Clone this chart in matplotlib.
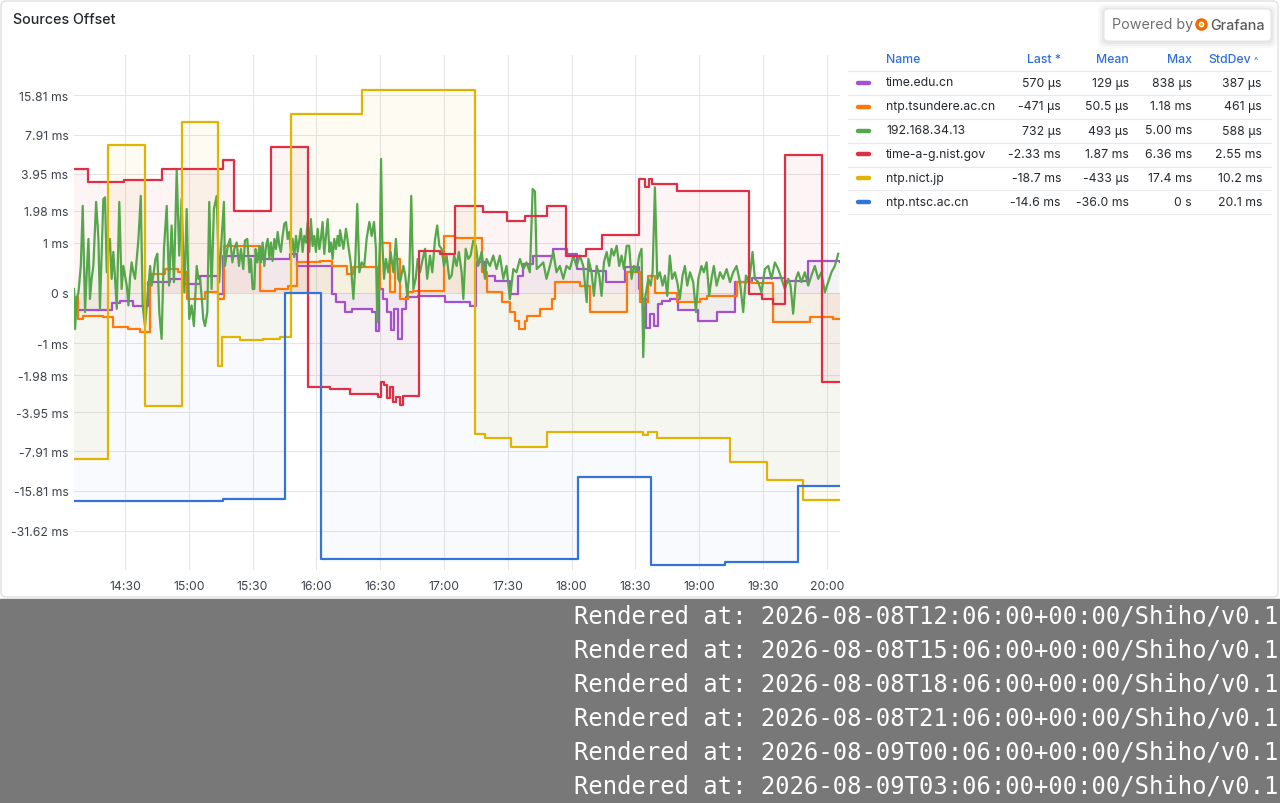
import matplotlib
matplotlib.use("Agg")
import matplotlib.pyplot as plt
from matplotlib.patches import FancyBboxPatch, Rectangle, Circle
from matplotlib.transforms import IdentityTransform
from matplotlib.ticker import NullLocator

plt.rcParams["font.family"] = ["Inter", "DejaVu Sans"]

# ---- data: time in minutes after 14:00, offsets in ms ----
names = ["time.edu.cn", "ntp.tsundere.ac.cn", "192.168.34.13",
         "time-a-g.nist.gov", "ntp.nict.jp", "ntp.ntsc.ac.cn"]
colors = ["#A352CC", "#FF780A", "#56A64B", "#E02F44", "#E0B400", "#3274D9"]
col_last = ["570 µs", "-471 µs", "732 µs", "-2.33 ms", "-18.7 ms", "-14.6 ms"]
col_mean = ["129 µs", "50.5 µs", "493 µs", "1.87 ms", "-433 µs", "-36.0 ms"]
col_max = ["838 µs", "1.18 ms", "5.00 ms", "6.36 ms", "17.4 ms", "0 s"]
col_std = ["387 µs", "461 µs", "588 µs", "2.55 ms", "10.2 ms", "20.1 ms"]

purple_t = [6.0, 7.4, 23.9, 27.6, 33.8, 40.8, 51.2, 57.3, 65.3, 73.7, 76.1, 92.1,
            107.6, 110.9, 127.3, 129.2, 133.4, 136.7, 146.1, 148.0, 149.4, 151.3,
            153.2, 155.1, 156.5, 158.4, 160.2, 162.1, 167.8, 180.5, 192.2, 195.0,
            199.3, 204.0, 211.0, 214.8, 217.1, 221.8, 231.2, 237.8, 242.5, 248.6,
            256.2, 265.1, 271.7, 273.1, 275.0, 276.9, 278.7, 280.6, 282.5, 286.3,
            290.0, 299.4, 308.4, 316.8, 324.8, 340.3, 351.1, 366.0]
purple_v = [-0.375, -0.31, -0.175, -0.135, -0.227, 0.188, 0.247, 0.158, 0.305, -0.017,
            0.69, 0.63, 0.735, 0.49, -0.017, -0.163, -0.34, -0.28, -0.34, -0.72, 0.07,
            -0.105, -0.33, -0.70, -0.28, -0.89, -0.28, -0.075, -0.047, -0.163, -0.22,
            0.56, 0.305, 0.217, -0.017, 0.305, 0.528, 0.69, 0.846, 0.735, 0.43, 0.40,
            0.188, 0.46, 0.07, -0.105, -0.65, -0.375, -0.60, -0.19, -0.135, -0.105,
            -0.31, -0.50, -0.34, 0.188, 0.26, 0.217, 0.59, 0.56]

orange_t = [6.0, 7.0, 7.9, 10.3, 19.7, 24.4, 31.4, 37.1, 41.8, 48.8, 54.9, 59.2,
            67.6, 73.7, 76.5, 93.5, 100.5, 106.6, 110.9, 121.7, 127.3, 134.4, 137.2,
            148.5, 149.9, 154.6, 157.0, 159.3, 163.1, 165.4, 180.0, 185.2, 197.9,
            200.2, 207.3, 211.0, 213.4, 215.3, 218.1, 219.0, 225.1, 230.8, 232.2,
            243.9, 248.6, 266.0, 272.2, 275.9, 279.2, 289.6, 300.4, 303.7, 317.8,
            324.8, 334.7, 352.1, 362.9, 366.0]
orange_v = [-0.135, -0.07, -0.469, -0.405, -0.437, -0.63, -0.671, -0.735, 0.338, 0.431,
            0.368, -0.105, 0.012, -0.105, 0.915, 0.04, 0.07, 0.128, 0.56, 0.59, 0.49,
            0.338, 0.46, 0.07, 1.0, 0.012, 0.63, -0.105, 0.012, 0.04, 1.175, 1.11,
            0.368, 0.012, -0.163, -0.34, -0.50, -0.671, -0.50, -0.405, -0.28, -0.105,
            0.188, 0.128, -0.34, 0.368, -0.163, 0.305, 0.0, -0.163, -0.105, -0.052,
            0.188, 0.18, -0.53, -0.437, -0.469, -0.469]

green_t = [
    # 14:06 - 15:17
    6.0, 6.5, 7.3, 8.1, 9.2, 10.1, 11.2, 12.0, 12.8, 13.5, 14.3, 15.1, 16.4, 17.5,
    18.2, 19.0, 19.8, 20.6, 21.4, 22.2, 22.9, 23.7, 24.5, 25.3, 26.1, 27.3, 28.4,
    29.2, 30.0, 30.8, 31.6, 32.3, 33.1, 33.9, 34.7, 35.5, 36.3, 37.4, 38.3, 39.4,
    40.5, 41.8, 42.5, 43.3, 44.3, 45.2, 46.1, 47.2, 48.3, 49.6, 50.7, 51.9, 53.0,
    54.3, 55.5, 56.6, 57.9, 59.0, 60.2, 61.3, 62.4, 63.7, 64.5, 65.3, 66.0, 66.8,
    67.6, 68.7, 69.6, 70.7, 71.8, 73.1, 74.3, 75.4, 76.5,
    # 15:17 - 16:11
    77.0, 78.3, 79.4, 80.5, 81.4, 82.5, 83.6, 84.5, 85.6, 86.4, 87.5, 88.5, 89.2,
    90.0, 90.8, 91.4, 92.2, 93.2, 93.9, 94.7, 95.5, 96.3, 97.1, 97.9, 98.6, 99.4,
    100.2, 101.0, 101.8, 102.6, 103.3, 104.1, 104.9, 105.7, 106.5, 107.3, 108.0,
    108.8, 109.6, 110.4, 111.2, 112.0, 112.7, 113.5, 114.3, 115.1, 115.9, 116.7,
    117.4, 118.2, 119.0, 119.8, 120.6, 121.4, 122.1, 122.9, 123.7, 124.5, 125.3,
    126.1, 126.9, 127.6, 128.4, 129.2, 130.0, 130.8,
    # 16:11 - 18:04
    131.1, 132.7, 133.9, 135.0, 136.1, 137.4, 138.1, 139.2, 140.2, 141.3,
    142.5, 143.6, 144.9, 146.0, 147.1, 148.0, 148.6, 149.3, 149.9, 150.4,
    151.0, 151.8, 152.7, 153.8, 154.9, 156.2, 157.4, 158.5, 159.3, 160.9,
    161.8, 162.7, 163.7, 164.6, 165.6, 166.7, 167.6, 168.7, 170.0, 171.1,
    172.1, 173.4, 174.5, 175.8, 176.8, 177.8, 178.9, 180.0, 181.2, 182.5,
    183.6, 184.8, 185.9, 187.0, 188.3, 189.1, 190.2, 191.4, 192.5, 193.8,
    195.0, 196.1, 197.7, 199.3, 200.0, 201.6, 203.2, 204.7, 206.3, 207.9,
    209.4, 211.0, 212.6, 214.1, 215.7, 217.3, 218.8, 220.4, 221.7, 222.8,
    223.6, 225.1, 226.7, 228.2, 229.8, 231.4, 232.9, 234.5, 236.1, 237.6,
    239.2, 240.8, 242.3, 243.9,
    # 18:05 - 20:06
    245.5, 247.1, 247.9, 249.4, 250.5, 251.8, 253.0, 254.1, 255.2, 256.5,
    257.7, 258.8, 259.9, 261.2, 262.4, 263.5, 264.6, 265.9, 267.1, 268.2,
    269.3, 270.6, 271.8, 272.9, 273.7, 274.5, 276.1, 277.2, 278.1, 279.2,
    280.3, 281.5, 282.8, 283.9, 285.0, 286.2, 287.3, 288.6, 289.7, 290.9,
    292.2, 293.3, 294.4, 295.7, 297.2, 298.5, 299.6, 301.1, 302.2, 303.5,
    304.7, 305.8, 306.9, 308.2, 309.8, 311.3, 312.9, 314.5, 316.0, 317.6,
    319.2, 320.7, 322.0, 323.5, 325.1, 326.2, 327.8, 329.3, 330.9, 332.5,
    334.0, 335.6, 337.2, 338.7, 340.3, 341.9, 343.0, 344.2, 345.5, 346.6,
    348.1, 349.7, 351.3, 352.8, 354.4, 356.0, 357.5, 359.1, 360.7, 362.2,
    363.8, 365.4]
green_v = [
    0.07, -0.67, -0.105, 0.01, 0.49, 2.18, -0.34, 0.37, 1.09, -0.105, 0.25, 0.49,
    2.35, 1.09, -0.28, 0.70, 2.48, 2.56, 0.37, 0.92, 1.09, 0.25, 0.78, 0.25, -0.28,
    2.35, 0.07, 0.49, 0.31, 0.13, -0.22, 0.25, 0.56, 0.37, 0.25, 0.63, 1.09, 2.63,
    -0.22, -0.61, -0.105, 0.49, 0.13, 0.31, 0.63, 0.74, -0.34, -0.89, 0.85, 2.18,
    0.13, 1.47, 0.19, 4.2, 0.70, 2.48, 0.01, 2.05, -0.47, -0.22, -0.61, 0.49, 0.25,
    0.25, -0.05, -0.47, -0.61, -0.34, 2.35, 0.07, 2.05, 2.63, 0.19, 1.09, 2.35,
    0.49, 0.915, 1.09, 0.56, 0.846, 1.0, 0.49, 0.846, 0.43, 1.05, 1.09, 0.37, 0.63,
    0.07, 0.07, 0.846, 0.56, 0.915, 0.56, 1.0, 0.49, 0.915, 1.09, 0.63, 1.0, 0.59,
    1.09, 0.846, 1.28, 0.915, 0.78, 1.17, 1.52, 1.58, 1.09, 1.28, 0.78, 1.09, 0.67,
    1.17, 0.78, 1.09, 1.37, 0.78, 1.17, 1.0, 1.58, 0.78, 1.68, 0.915, 1.17, 0.78,
    1.37, 0.846, 1.09, 1.58, 0.735, 1.17, 1.68, 0.78, 1.0, 0.63, 1.09, 0.846, 1.17,
    0.915,
    1.33, 0.85, 1.37, 0.92, 0.56, -0.105, 0.37, 2.26, 0.37, 0.56,
    0.49, 1.09, 1.58, 1.17, 1.58, 0.85, -0.53, 0.25, 1.09, 5.14,
    1.0, 0.25, 0.63, 0.37, 0.78, 0.37, 1.09, 0.25, 0.19, 0.49,
    0.31, -0.05, 0.37, 2.63, 0.07, 0.25, 0.63, 0.37, 0.63, 0.85,
    0.25, 0.70, 0.37, 1.09, 1.47, 0.92, 0.85, 0.49, 0.70, 0.25,
    0.31, 0.70, 0.49, 0.78, 0.37, -0.105, 0.85, 0.63, 0.70, 1.05,
    0.92, 0.49, 0.78, 0.25, 0.63, 0.49, 0.70, 0.43, 0.70, 0.25,
    0.49, -0.105, 0.43, 0.37, 0.63, 0.43, 0.56, 0.37, 2.99, 2.85,
    0.43, 0.49, 0.56, 0.25, 0.49, 0.78, 0.37, 0.49, 0.25, 0.49,
    0.43, 0.70, 0.49, 0.70,
    0.49, -0.16, 0.63, 0.37, -0.05, 0.49, 0.31, -0.05, 0.56, 0.78,
    0.49, 0.85, 0.70, 0.92, 0.49, 0.70, 0.43, 0.92, 0.92, 0.25,
    0.49, 0.37, 0.70, 0.85, -1.37, -0.105, 0.25, 0.13, 0.37, 3.08,
    0.25, 0.37, 0.13, 0.31, -0.05, 0.70, 0.25, 0.37, 0.19, -0.105,
    0.31, 0.49, 0.13, 0.37, 0.19, -0.34, 0.25, 0.49, 0.37, 0.56,
    -0.05, 0.25, 0.49, 0.13, 0.37, 0.25, 0.43, 0.19, 0.37, 0.49,
    0.19, -0.34, 0.31, 0.19, 0.78, 0.25, 0.19, 0.01, 0.43, 0.49,
    0.25, 0.56, 0.43, 0.25, 0.07, 0.25, 0.13, -0.37, 0.25, 0.37,
    0.19, 0.37, 0.13, 0.31, 0.49, 0.25, 0.37, 0.01, 0.19, 0.37,
    0.49, 0.74]

red_t = [6.0, 12.6, 29.5, 47.4, 76.0, 81.3, 98.7, 116.0, 126.4, 135.8, 149.0, 150.4,
         151.8, 153.2, 154.6, 156.0, 157.4, 159.3, 160.7, 168.2, 178.0, 185.2, 198.3,
         209.6, 218.0, 228.4, 237.4, 246.8, 254.3, 271.7, 274.5, 276.4, 277.8, 289.6,
         323.4, 329.5, 334.7, 340.3, 357.7, 366.0]
red_v = [4.28, 3.42, 3.52, 4.33, 5.07, 1.98, 6.39, -2.47, -2.58, -2.83, -2.99, -2.26,
         -2.39, -3.05, -2.48, -3.27, -2.99, -3.47, -2.92, 0.81, 0.735, 2.18, 1.93, 1.62,
         1.79, 2.18, 0.70, 0.846, 1.19, 3.59, 3.10, 3.59, 3.28, 2.86, -0.017, -0.105,
         -0.19, 5.51, -2.26, -2.26]

yellow_t = [6.0, 22.0, 39.4, 56.8, 73.7, 75.6, 84.0, 95.0, 103.0, 108.0, 141.4, 194.6,
            199.3, 211.5, 228.4, 273.6, 276.0, 280.1, 314.5, 331.9, 348.8, 366.0]
yellow_v = [-9.0, 6.6, -3.5, 9.8, -1.64, -0.84, -0.92, -0.90, -0.85, 11.4, 17.3, -5.81,
            -6.28, -7.27, -5.58, -5.90, -5.60, -6.28, -9.57, -13.0, -18.4, -18.4]

blue_t = [6.0, 76.0, 105.2, 122.2, 243.0, 277.3, 312.0, 346.5, 366.0]
blue_v = [-18.9, -18.2, 0.0, -52.0, -12.3, -57.6, -54.4, -14.5, -14.5]

ytick_vals = [15.81, 7.91, 3.95, 1.98, 1, 0, -1, -1.98, -3.95, -7.91, -15.81, -31.62]
ytick_labels = ["15.81 ms", "7.91 ms", "3.95 ms", "1.98 ms", "1 ms", "0 s", "-1 ms",
                "-1.98 ms", "-3.95 ms", "-7.91 ms", "-15.81 ms", "-31.62 ms"]
xtick_vals = [30, 60, 90, 120, 150, 180, 210, 240, 270, 300, 330, 360]

render_lines = ["Rendered at: 2026-08-08T12:06:00+00:00/Shiho/v0.1",
                "Rendered at: 2026-08-08T15:06:00+00:00/Shiho/v0.1",
                "Rendered at: 2026-08-08T18:06:00+00:00/Shiho/v0.1",
                "Rendered at: 2026-08-08T21:06:00+00:00/Shiho/v0.1",
                "Rendered at: 2026-08-09T00:06:00+00:00/Shiho/v0.1",
                "Rendered at: 2026-08-09T03:06:00+00:00/Shiho/v0.1"]

W, H = 1280, 804
fig = plt.figure(figsize=(W / 100, H / 100), dpi=100)
fig.patch.set_facecolor("white")


def fx(x):
    return x / W


def fy(y):
    return 1 - y / H


def pix(x, y):
    # pixel coords measured from the top-left corner
    return (x, H - y)


# grey band and panel
fig.add_artist(Rectangle((0, 0), 1, 204 / H, transform=fig.transFigure,
                         color="#787878", zorder=0))
fig.add_artist(FancyBboxPatch(pix(1, 598), 1277, 596,
                              boxstyle="round,pad=0,rounding_size=5",
                              transform=IdentityTransform(), fc="white",
                              ec="#dfe0e3", lw=1, zorder=0))

fig.text(fx(13), fy(20), "Sources Offset", fontsize=10.3, fontweight="medium",
         color="#24292e", va="center", ha="left")

# ---- time series ----
ax = fig.add_axes([fx(74), fy(571.3), (839.5 - 74) / W, 514.9 / H])
ax.set_facecolor("none")
ax.set_yscale("asinh", linear_width=1.0)

steps = [(purple_t, purple_v, colors[0], 0.05), (orange_t, orange_v, colors[1], 0.05),
         (None, None, colors[2], 0.04), (red_t, red_v, colors[3], 0.05),
         (yellow_t, yellow_v, colors[4], 0.05), (blue_t, blue_v, colors[5], 0.03)]

for t, v, c, a in steps:
    if t is None:
        n = min(len(green_t), len(green_v))
        ax.fill_between(green_t[:n], green_v[:n], 0, color=c, alpha=a, lw=0)
        ax.plot(green_t[:n], green_v[:n], color=c, lw=1.6, solid_joinstyle="round")
        continue
    ax.fill_between(t, v, 0, step="post", color=c, alpha=a, lw=0)
    ax.step(t, v, where="post", color=c, lw=1.6)

ax.set_xlim(6, 366)
ax.set_ylim(-63.24, 31.62)
ax.set_yticks(ytick_vals)
ax.set_yticklabels(ytick_labels)
ax.yaxis.set_minor_locator(NullLocator())
ax.set_xticks(xtick_vals)
ax.set_xticklabels([f"{14 + m // 60}:{m % 60:02d}" for m in xtick_vals])
ax.tick_params(length=0, labelsize=8.8, colors="#3d434a")
ax.tick_params(axis="y", pad=4)
ax.tick_params(axis="x", pad=7)
ax.grid(True, color="#e5e5e6", lw=0.75)
ax.set_axisbelow(True)
for s in ax.spines.values():
    s.set_visible(False)

# ---- legend table ----
head_col = "#2f6fdc"
txt_col = "#24292e"
fig.text(fx(886), fy(60), "Name", color=head_col, fontsize=8.8, va="center",
         fontweight="medium")
for xr, lab in [(1061, "Last *"), (1129, "Mean"), (1192, "Max"), (1251, "StdDev")]:
    fig.text(fx(xr), fy(60), lab, color=head_col, fontsize=8.8, va="center",
             ha="right", fontweight="medium")
fig.text(fx(1256), fy(62), "^", color=head_col, fontsize=6.5, va="center", ha="center")

for yy in [72.3, 96.3, 120.3, 143.7, 167.7, 191.3, 215]:
    fig.add_artist(plt.Line2D([fx(848), fx(1271)], [fy(yy), fy(yy)], color="#e9e9eb",
                              lw=0.8, transform=fig.transFigure))

row_y = [83.5, 107.5, 131.5, 155, 179, 202.7]
for i in range(len(names)):
    yy = row_y[i]
    fig.add_artist(plt.Line2D([fx(858), fx(869)], [fy(yy), fy(yy)], color=colors[i],
                              lw=3.2, solid_capstyle="round",
                              transform=fig.transFigure))
    fig.text(fx(886), fy(yy), names[i], color=txt_col, fontsize=8.8, va="center")
    for xr, val in [(1061, col_last[i]), (1129, col_mean[i]), (1192, col_max[i]),
                    (1262, col_std[i])]:
        fig.text(fx(xr), fy(yy), val, color=txt_col, fontsize=8.8, va="center",
                 ha="right")

# ---- powered by badge ----
for k, a in [(6, 0.025), (4, 0.03), (2, 0.04)]:
    fig.add_artist(FancyBboxPatch(pix(1104 - k, 42 + k + 1), 167 + 2 * k, 32 + 2 * k,
                                  boxstyle="round,pad=0,rounding_size=6",
                                  transform=IdentityTransform(), fc="black",
                                  ec="none", alpha=a))
fig.add_artist(FancyBboxPatch(pix(1104, 42), 167, 32,
                              boxstyle="round,pad=0,rounding_size=4",
                              transform=IdentityTransform(), fc="white",
                              ec="#e6e6e8", lw=0.8))
fig.text(fx(1112), fy(25.5), "Powered by", color="#707070", fontsize=10.3, va="center")
fig.add_artist(Circle(pix(1201.5, 25.5), 4.6, transform=IdentityTransform(),
                      fc="none", ec="#F46800", lw=2.4))
fig.add_artist(Circle(pix(1201.5, 25.5), 1.6, transform=IdentityTransform(),
                      fc="#FBCA0A", ec="none"))
fig.text(fx(1210), fy(25.5), "Grafana", color="#5b5b5b", fontsize=10.3, va="center",
         fontweight="medium")

# ---- footer ----
for i, line in enumerate(render_lines):
    fig.text(fx(1278), fy(617 + 34 * i), line, color="white", fontsize=17.2,
             family="DejaVu Sans Mono", ha="right", va="center")

fig.savefig("out.png", dpi=100, facecolor=fig.get_facecolor())
